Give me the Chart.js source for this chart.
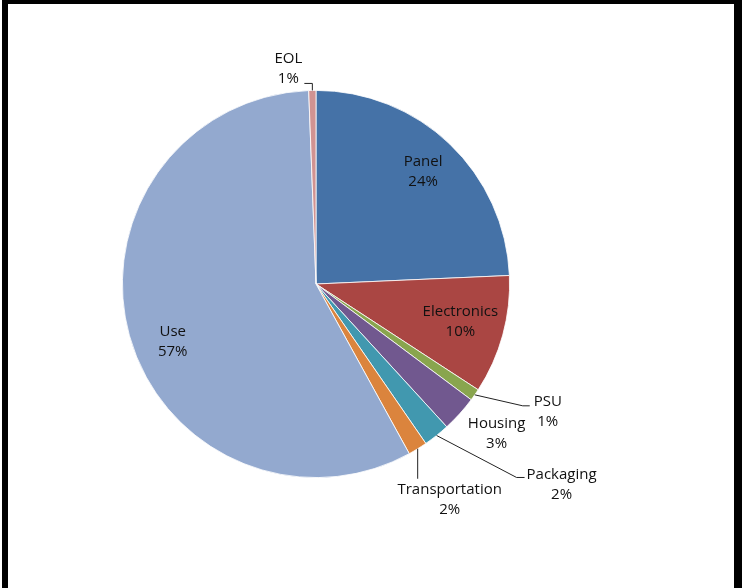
<!DOCTYPE html>
<html>
<head>
<meta charset="utf-8">
<script src="https://cdn.jsdelivr.net/npm/chart.js@4.4.1/dist/chart.umd.min.js"></script>
<style>
  html, body { margin: 0; padding: 0; background: #fff; }
  #wrap { width: 742px; height: 588px; }
</style>
</head>
<body>
<div id="wrap"><canvas id="pieChart" width="742" height="588"></canvas></div>
<script>
// Share of each life-cycle stage (percent)
const categories = ['Panel', 'Electronics', 'PSU', 'Housing', 'Packaging', 'Transportation', 'Use', 'EOL'];
const shares = [24.3, 9.9, 1.0, 3.0, 2.2, 1.6, 57.4, 0.6];
const sliceColors = ['#4572A7', '#AA4643', '#89A54E', '#71588F', '#4198AF', '#DB843D', '#93A9CF', '#D19392'];

// Where each label sits: inside the slice, or outside with a leader line
// offsets are in px from the slice mid-point (inside: 0.8 radius, outside: rim)
const labelPlacement = {
    'Panel':          { inside: true,  dx: 0,   dy: 0 },
    'Electronics':    { inside: true,  dx: -5,  dy: -3 },
    'PSU':            { inside: false, dx: 73,  dy: 17, leader: [[0, 0], [48, 11], [55, 11]] },
    'Housing':        { inside: false, dx: 37,  dy: 20 },
    'Packaging':      { inside: false, dx: 125, dy: 49, leader: [[0, 0], [80, 42], [88, 42]] },
    'Transportation': { inside: false, dx: 32,  dy: 51, leader: [[0, 0], [0, 30]] },
    'Use':            { inside: true,  dx: 6,   dy: 16 },
    'EOL':            { inside: false, dx: -24, dy: -22, leader: [[0, 0], [0, -7], [-8, -7]] }
};

const labelFont = '15px "Open Sans", Lato, sans-serif';

// Draws the frame lines and the slice labels
const labelPlugin = {
    id: 'sliceLabels',
    afterDraw(chart) {
        const c = chart.ctx;
        const arcs = chart.getDatasetMeta(0).data;
        const total = shares.reduce((a, b) => a + b, 0);

        c.save();
        // frame (left, top, right edges only)
        c.fillStyle = '#000';
        c.fillRect(2, 0, 6, 588);
        c.fillRect(2, 0, 740, 4);
        c.fillRect(734, 0, 8, 588);

        c.font = labelFont;
        c.textAlign = 'center';
        c.textBaseline = 'middle';
        arcs.forEach((arc, i) => {
            const name = categories[i];
            const place = labelPlacement[name];
            const mid = (arc.startAngle + arc.endAngle) / 2;
            const r = place.inside ? arc.outerRadius * 0.8 : arc.outerRadius;
            const px = arc.x + Math.cos(mid) * r;
            const py = arc.y + Math.sin(mid) * r;

            if (place.leader) {
                c.strokeStyle = '#222';
                c.lineWidth = 1;
                c.beginPath();
                place.leader.forEach(([lx, ly], k) => {
                    if (k === 0) c.moveTo(px + lx, py + ly);
                    else c.lineTo(px + lx, py + ly);
                });
                c.stroke();
            }

            const pct = Math.round(shares[i] / total * 100) + '%';
            const tx = px + place.dx;
            const ty = py + place.dy;
            c.fillStyle = '#111';
            c.fillText(name, tx, ty - 10);
            c.fillText(pct, tx, ty + 10);
        });
        c.restore();
    }
};

const ctx = document.getElementById('pieChart').getContext('2d');

let pieChart = new Chart(ctx, {
    type: 'pie',
    data: {
        labels: categories,
        datasets: [{
            data: shares,
            backgroundColor: sliceColors,
            borderColor: '#fff',
            borderWidth: 0.8
        }]
    },
    options: {
        responsive: false,
        animation: false,
        layout: {
            padding: { top: 90, bottom: 110, left: 122, right: 232 }
        },
        plugins: {
            legend: { display: false },
            tooltip: { enabled: false }
        }
    },
    plugins: [labelPlugin]
});
</script>
</body>
</html>
